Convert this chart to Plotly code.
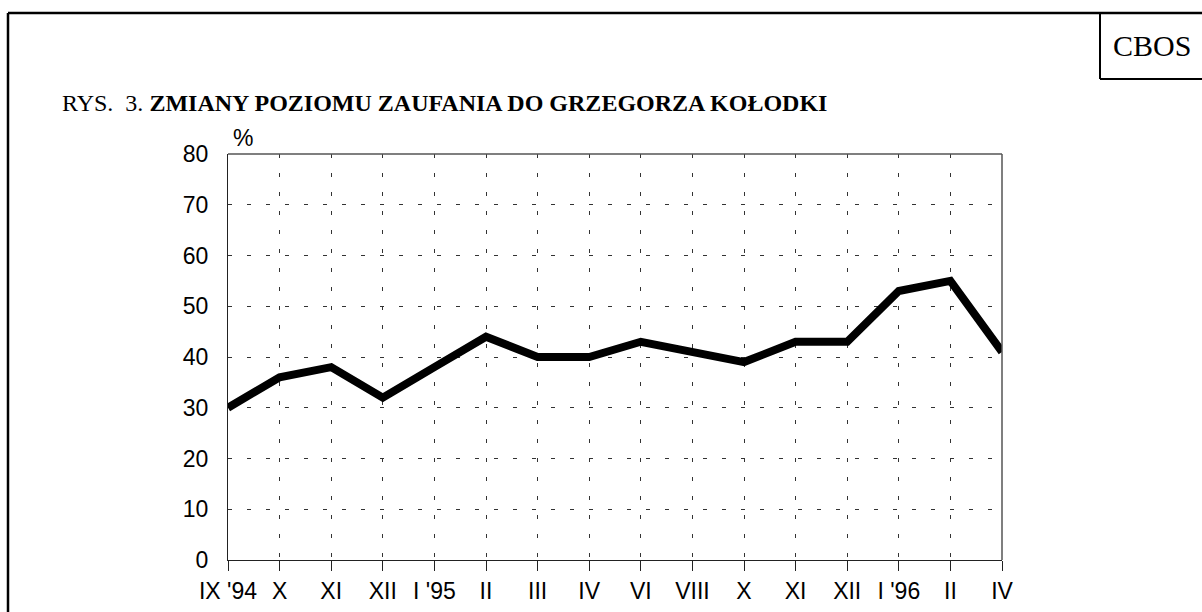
import plotly.graph_objects as go

categories = ["IX '94", "X", "XI", "XII", "I '95", "II", "III", "IV", "VI", "VIII",
              "X", "XI", "XII", "I '96", "II", "IV"]
values = [30, 36, 38, 32, 38, 44, 40, 40, 43, 41, 39, 43, 43, 53, 55, 41]
y_ticks = [0, 10, 20, 30, 40, 50, 60, 70, 80]

positions = list(range(len(categories)))

# plot area in pixels
L, R, T, B = 228, 1002, 154, 560
W, H = 1202, 612
def px(x):
    return (x - L) / (R - L)
def py(y):
    return (B - y) / (B - T)

fig = go.Figure()
fig.add_trace(go.Scatter(
    x=positions, y=values, mode="lines",
    line=dict(color="black", width=8),
    showlegend=False, hoverinfo="skip",
))

grid_color = "#333333"
fig.update_xaxes(
    range=[0, len(categories) - 1],
    tickmode="array", tickvals=positions, ticktext=categories,
    showgrid=True, gridcolor=grid_color, gridwidth=1, griddash="4px,15px",
    showline=True, linecolor="#222222", linewidth=1,
    ticks="outside", ticklen=10, tickwidth=1, tickcolor="#222222",
    tickfont=dict(family="Liberation Sans, Arial", size=23, color="black"),
    zeroline=False, fixedrange=True,
)
fig.update_yaxes(
    range=[0, 80], tickmode="array", tickvals=y_ticks,
    showgrid=True, gridcolor=grid_color, gridwidth=1, griddash="4px,15px",
    showline=True, linecolor="#222222", linewidth=1,
    ticks="", ticklabelstandoff=14,
    tickfont=dict(family="Liberation Sans, Arial", size=23, color="black"),
    zeroline=False, fixedrange=True,
)

shapes = [
    # top & right plot borders
    dict(type="line", xref="paper", yref="paper", x0=0, x1=1, y0=1, y1=1,
         line=dict(color="#555555", width=1.5)),
    dict(type="line", xref="paper", yref="paper", x0=1, x1=1, y0=0, y1=1,
         line=dict(color="#555555", width=1.5)),
    # outer frame
    dict(type="line", xref="paper", yref="paper", x0=px(8), x1=px(1204), y0=py(13), y1=py(13),
         line=dict(color="black", width=2.5)),
    dict(type="line", xref="paper", yref="paper", x0=px(8), x1=px(8), y0=py(13), y1=py(614),
         line=dict(color="black", width=2.5)),
    # CBOS box
    dict(type="line", xref="paper", yref="paper", x0=px(1100), x1=px(1100), y0=py(13), y1=py(79),
         line=dict(color="black", width=2)),
    dict(type="line", xref="paper", yref="paper", x0=px(1100), x1=px(1204), y0=py(79), y1=py(79),
         line=dict(color="black", width=2)),
]

annotations = [
    dict(text="CBOS", xref="paper", yref="paper", x=px(1152), y=py(45),
         xanchor="center", yanchor="middle", showarrow=False,
         font=dict(family="Liberation Serif, Times New Roman", size=30, color="black")),
    dict(text="RYS.  3. <b>ZMIANY POZIOMU ZAUFANIA DO GRZEGORZA KOŁODKI</b>",
         xref="paper", yref="paper", x=px(60), y=py(103),
         xanchor="left", yanchor="middle", showarrow=False,
         font=dict(family="Liberation Serif, Times New Roman", size=24, color="black")),
    dict(text="%", xref="paper", yref="paper", x=px(231), y=py(138),
         xanchor="left", yanchor="middle", showarrow=False,
         font=dict(family="Liberation Sans, Arial", size=23, color="black")),
]

fig.update_layout(
    width=W, height=H,
    margin=dict(l=L, r=W - R, t=T, b=H - B, autoexpand=False),
    paper_bgcolor="white", plot_bgcolor="white",
    shapes=shapes, annotations=annotations,
    showlegend=False,
)

fig.write_html("out.html",
               config={"displayModeBar": False},
               post_script="document.body.style.margin='0';document.body.style.padding='0';")
